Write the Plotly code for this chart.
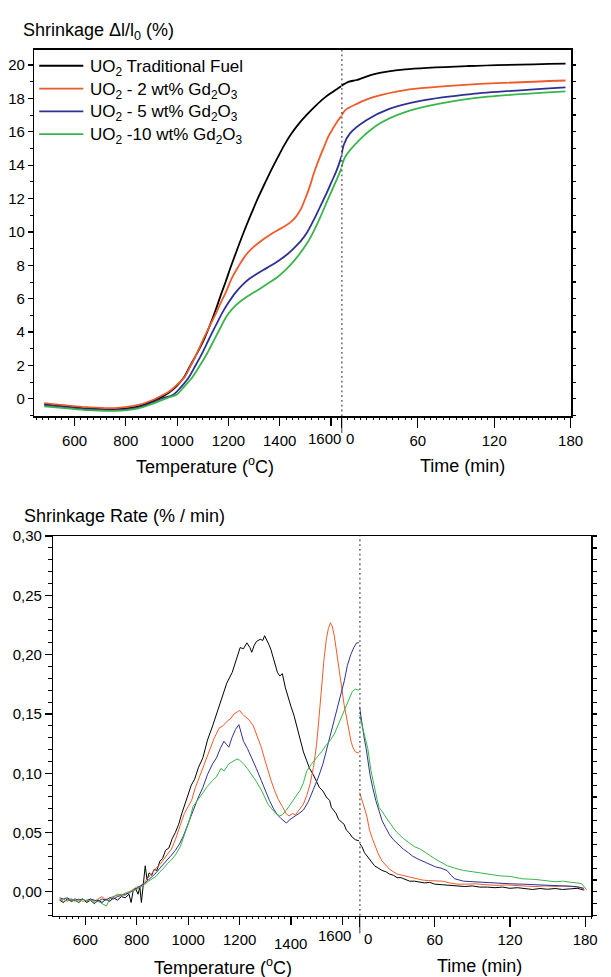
import plotly.graph_objects as go

FONT = "Liberation Sans, Arial, sans-serif"
W, H = 611, 977

series_names = [
    "UO<sub>2</sub> Traditional Fuel",
    "UO<sub>2</sub> - 2 wt% Gd<sub>2</sub>O<sub>3</sub>",
    "UO<sub>2</sub> - 5 wt% Gd<sub>2</sub>O<sub>3</sub>",
    "UO<sub>2</sub> -10 wt% Gd<sub>2</sub>O<sub>3</sub>",
]
series_colors = ["#000000", "#F15A29", "#2E3192", "#39B54A"]

# ---------------- Top panel: shrinkage (%) ----------------
shr_temp_black = [482, 560, 650, 755, 845, 900, 940, 970, 1000, 1025, 1050, 1075, 1100, 1125, 1151, 1170, 1189, 1208, 1227, 1259, 1291, 1316, 1342, 1367, 1392, 1418, 1444, 1476, 1508, 1540, 1572, 1608, 1643]
shr_black      = [-0.30, -0.45, -0.58, -0.63, -0.47, -0.18, 0.12, 0.40, 0.80, 1.25, 1.95, 2.65, 3.40, 4.30, 5.35, 6.20, 7.00, 7.85, 8.65, 9.95, 11.15, 12.05, 12.90, 13.70, 14.45, 15.20, 15.85, 16.50, 17.05, 17.55, 18.00, 18.40, 18.76]
shr_temp_red   = [482, 560, 650, 755, 845, 900, 940, 970, 1000, 1029, 1050, 1075, 1100, 1125, 1151, 1170, 1189, 1214, 1240, 1265, 1291, 1316, 1342, 1367, 1392, 1418, 1444, 1463, 1482, 1500, 1517, 1533, 1552, 1572, 1591, 1610, 1626, 1643]
shr_red        = [-0.25, -0.38, -0.50, -0.55, -0.38, -0.10, 0.20, 0.45, 0.85, 1.30, 1.90, 2.65, 3.50, 4.30, 5.10, 5.75, 6.35, 7.25, 7.95, 8.55, 9.00, 9.32, 9.62, 9.88, 10.10, 10.32, 10.60, 10.90, 11.35, 12.00, 12.70, 13.50, 14.30, 15.05, 15.75, 16.25, 16.65, 16.98]
shr_temp_blue  = [482, 560, 650, 755, 845, 900, 940, 985, 1015, 1042, 1070, 1100, 1125, 1151, 1176, 1201, 1227, 1253, 1278, 1304, 1336, 1368, 1400, 1431, 1457, 1482, 1508, 1533, 1559, 1584, 1604, 1623, 1643]
shr_blue       = [-0.38, -0.50, -0.62, -0.68, -0.52, -0.25, 0.02, 0.25, 0.70, 1.20, 1.95, 2.80, 3.60, 4.40, 5.15, 5.78, 6.35, 6.80, 7.15, 7.42, 7.72, 8.00, 8.32, 8.68, 9.05, 9.45, 10.00, 10.72, 11.55, 12.35, 13.05, 13.72, 14.60]
shr_temp_green = [482, 560, 650, 755, 845, 900, 940, 970, 1000, 1027, 1055, 1087, 1119, 1145, 1167, 1193, 1219, 1245, 1271, 1297, 1323, 1355, 1388, 1418, 1444, 1476, 1508, 1533, 1559, 1584, 1610, 1627, 1643]
shr_green      = [-0.45, -0.55, -0.68, -0.72, -0.58, -0.32, -0.08, 0.10, 0.28, 0.72, 1.20, 1.95, 2.78, 3.55, 4.20, 4.95, 5.45, 5.82, 6.10, 6.35, 6.60, 6.92, 7.25, 7.65, 8.05, 8.65, 9.35, 10.05, 10.90, 11.80, 12.70, 13.30, 13.90]

shr_time_black = [0, 6, 12, 25, 50, 100, 176]
shr_t_black    = [18.76, 19.00, 19.10, 19.44, 19.74, 19.94, 20.08]
shr_time_red   = [0, 3, 12, 25, 50, 100, 176]
shr_t_red      = [16.98, 17.30, 17.67, 18.07, 18.50, 18.82, 19.07]
shr_time_blue  = [0, 2, 6.7, 19.5, 37.5, 63, 102, 176]
shr_t_blue     = [14.60, 15.25, 15.90, 16.69, 17.37, 17.87, 18.26, 18.66]
shr_time_green = [0, 3, 14, 30, 50, 76, 115, 176]
shr_t_green    = [13.90, 14.50, 15.50, 16.49, 17.18, 17.67, 18.10, 18.42]

# ---------------- Bottom panel: shrinkage rate (%/min) ----------------
rate_temp_black = [500, 515, 530, 545, 560, 575, 590, 605, 620, 635, 650, 665, 680, 695, 710, 725, 740, 755, 770, 778, 786, 795, 805, 812, 818, 825, 833, 840, 848, 858, 868, 878, 890, 900, 912, 925, 938, 950, 963, 975, 988, 1000, 1012, 1025, 1040, 1057, 1075, 1095, 1115, 1133, 1150, 1171, 1190, 1202, 1215, 1228, 1240, 1247, 1257, 1265, 1280, 1290, 1297, 1305, 1315, 1322, 1335, 1347, 1356, 1366, 1378, 1390, 1400, 1411, 1425, 1437, 1448, 1460, 1472, 1486, 1498, 1510, 1524, 1537, 1550, 1557, 1565, 1575, 1585, 1596, 1606, 1615, 1625, 1638, 1650, 1664]
rate_black      = [-0.007, -0.009, -0.006, -0.008, -0.007, -0.009, -0.006, -0.009, -0.007, -0.010, -0.007, -0.009, -0.006, -0.008, -0.005, -0.007, -0.004, -0.005, -0.002, -0.009, 0.001, 0.003, -0.002, 0.004, -0.009, 0.006, 0.022, 0.010, 0.016, 0.014, 0.019, 0.018, 0.026, 0.028, 0.035, 0.037, 0.045, 0.050, 0.057, 0.066, 0.075, 0.083, 0.090, 0.095, 0.105, 0.113, 0.128, 0.140, 0.153, 0.165, 0.176, 0.185, 0.197, 0.206, 0.205, 0.210, 0.206, 0.202, 0.208, 0.211, 0.213, 0.212, 0.216, 0.213, 0.208, 0.204, 0.195, 0.185, 0.182, 0.184, 0.172, 0.162, 0.156, 0.149, 0.137, 0.127, 0.118, 0.111, 0.104, 0.099, 0.093, 0.088, 0.085, 0.080, 0.077, 0.071, 0.069, 0.066, 0.061, 0.059, 0.057, 0.052, 0.050, 0.046, 0.044, 0.043]
rate_temp_red   = [500, 515, 530, 545, 560, 575, 590, 605, 620, 635, 650, 665, 680, 695, 710, 725, 740, 755, 770, 785, 800, 815, 830, 845, 860, 875, 890, 905, 920, 935, 950, 969, 985, 1000, 1013, 1028, 1044, 1060, 1082, 1100, 1120, 1135, 1152, 1165, 1178, 1190, 1200, 1210, 1221, 1237, 1253, 1268, 1284, 1297, 1310, 1322, 1335, 1350, 1366, 1380, 1392, 1405, 1417, 1432, 1448, 1462, 1474, 1487, 1499, 1509, 1518, 1528, 1537, 1545, 1553, 1560, 1568, 1578, 1587, 1597, 1606, 1616, 1625, 1633, 1640, 1650, 1664]
rate_red        = [-0.006, -0.008, -0.007, -0.006, -0.008, -0.006, -0.008, -0.007, -0.006, -0.008, -0.006, -0.004, -0.007, -0.005, -0.004, -0.003, -0.002, -0.003, 0.000, 0.002, 0.004, 0.005, 0.008, 0.012, 0.016, 0.020, 0.023, 0.028, 0.032, 0.036, 0.044, 0.056, 0.066, 0.072, 0.077, 0.088, 0.097, 0.105, 0.119, 0.129, 0.138, 0.140, 0.144, 0.146, 0.150, 0.152, 0.153, 0.150, 0.148, 0.145, 0.140, 0.132, 0.122, 0.112, 0.102, 0.094, 0.086, 0.078, 0.072, 0.066, 0.064, 0.066, 0.065, 0.069, 0.074, 0.082, 0.091, 0.105, 0.124, 0.148, 0.174, 0.196, 0.213, 0.222, 0.227, 0.224, 0.216, 0.202, 0.188, 0.172, 0.158, 0.146, 0.136, 0.127, 0.122, 0.118, 0.117]
rate_temp_blue  = [500, 515, 530, 545, 560, 575, 590, 605, 620, 635, 650, 665, 680, 695, 710, 725, 740, 755, 770, 785, 800, 815, 830, 845, 860, 875, 890, 905, 920, 935, 950, 965, 981, 1000, 1019, 1038, 1057, 1075, 1095, 1110, 1125, 1139, 1150, 1158, 1170, 1184, 1197, 1205, 1215, 1230, 1247, 1265, 1284, 1300, 1316, 1332, 1347, 1360, 1372, 1382, 1395, 1411, 1430, 1448, 1467, 1486, 1505, 1524, 1543, 1562, 1578, 1594, 1607, 1619, 1632, 1644, 1655, 1664]
rate_blue       = [-0.005, -0.006, -0.005, -0.007, -0.006, -0.007, -0.006, -0.008, -0.006, -0.007, -0.008, -0.006, -0.007, -0.005, -0.006, -0.004, -0.003, -0.002, -0.001, 0.001, 0.003, 0.005, 0.007, 0.010, 0.013, 0.016, 0.020, 0.024, 0.028, 0.031, 0.035, 0.040, 0.047, 0.058, 0.069, 0.079, 0.088, 0.099, 0.108, 0.113, 0.121, 0.127, 0.124, 0.122, 0.130, 0.137, 0.141, 0.135, 0.127, 0.121, 0.113, 0.104, 0.094, 0.085, 0.077, 0.070, 0.065, 0.062, 0.060, 0.058, 0.061, 0.063, 0.066, 0.069, 0.076, 0.086, 0.096, 0.108, 0.124, 0.141, 0.154, 0.166, 0.178, 0.191, 0.200, 0.206, 0.210, 0.210]
rate_temp_green = [500, 515, 530, 545, 560, 575, 590, 605, 620, 635, 650, 665, 682, 695, 710, 725, 740, 755, 770, 785, 800, 815, 830, 845, 860, 875, 890, 905, 920, 935, 950, 969, 985, 1000, 1019, 1038, 1057, 1075, 1095, 1110, 1127, 1140, 1158, 1175, 1190, 1200, 1215, 1230, 1247, 1265, 1284, 1297, 1310, 1325, 1341, 1356, 1366, 1382, 1398, 1417, 1436, 1448, 1461, 1480, 1499, 1518, 1537, 1553, 1568, 1584, 1600, 1618, 1638, 1650, 1664]
rate_green      = [-0.007, -0.006, -0.008, -0.006, -0.007, -0.009, -0.006, -0.008, -0.007, -0.009, -0.008, -0.010, -0.012, -0.006, -0.004, -0.002, -0.003, -0.001, 0.000, 0.001, 0.002, 0.004, 0.006, 0.009, 0.011, 0.013, 0.017, 0.020, 0.024, 0.027, 0.031, 0.038, 0.048, 0.057, 0.072, 0.078, 0.084, 0.089, 0.094, 0.097, 0.104, 0.102, 0.108, 0.110, 0.112, 0.111, 0.108, 0.104, 0.099, 0.093, 0.086, 0.080, 0.074, 0.070, 0.066, 0.064, 0.065, 0.069, 0.074, 0.080, 0.086, 0.092, 0.102, 0.108, 0.113, 0.118, 0.124, 0.128, 0.133, 0.141, 0.149, 0.158, 0.169, 0.171, 0.170]

rate_time_black = [0, 2, 4, 6, 8, 10, 12, 15, 18, 21, 24, 27, 30, 33, 36, 40, 44, 48, 52, 56, 60, 66, 72, 78, 84, 90, 96, 102, 108, 114, 120, 126, 132, 138, 144, 150, 156, 162, 168, 174, 179]
rate_t_black    = [0.041, 0.038, 0.033, 0.030, 0.027, 0.024, 0.022, 0.020, 0.018, 0.017, 0.015, 0.014, 0.012, 0.012, 0.011, 0.009, 0.009, 0.008, 0.0075, 0.008, 0.0065, 0.006, 0.0055, 0.005, 0.0045, 0.005, 0.004, 0.004, 0.0035, 0.004, 0.003, 0.0035, 0.0025, 0.002, 0.0028, 0.0022, 0.0028, 0.002, 0.0025, 0.003, 0.0015]
rate_time_red   = [0, 1, 3, 6, 8, 10.6, 13, 15, 18, 21, 24, 27, 30, 34, 38, 42, 46, 50, 55, 60, 66, 72, 78, 86, 93, 100, 109, 118, 126, 134, 140, 148, 156, 164, 170, 176, 179.5]
rate_t_red      = [0.084, 0.080, 0.074, 0.063, 0.052, 0.044, 0.037, 0.032, 0.026, 0.022, 0.019, 0.017, 0.015, 0.014, 0.013, 0.012, 0.011, 0.010, 0.0095, 0.0095, 0.009, 0.0075, 0.0065, 0.0065, 0.0068, 0.006, 0.0055, 0.0058, 0.005, 0.0048, 0.0045, 0.005, 0.0046, 0.005, 0.0045, 0.0035, 0.002]
rate_time_blue  = [0, 2, 4, 5.3, 7, 8.5, 10.5, 13, 15.7, 18, 21, 24, 27, 31, 35, 39, 42.5, 46, 50, 55, 60.7, 65, 69.8, 73, 76, 83, 90, 97, 104, 112, 120, 130, 140, 148, 156, 166, 173, 179]
rate_t_blue     = [0.156, 0.140, 0.128, 0.121, 0.108, 0.098, 0.088, 0.077, 0.068, 0.060, 0.054, 0.048, 0.044, 0.040, 0.036, 0.033, 0.030, 0.028, 0.026, 0.024, 0.021, 0.020, 0.018, 0.014, 0.011, 0.009, 0.0085, 0.008, 0.0075, 0.007, 0.0068, 0.0065, 0.006, 0.0058, 0.0055, 0.005, 0.0045, 0.003]
rate_time_green = [0, 2, 4, 6.6, 9, 11.8, 14, 15.7, 18, 21, 24, 27, 30, 35, 40, 44, 48.6, 54, 60, 65, 70, 76, 83, 90, 97, 104, 112, 120, 130, 140, 148, 156, 162, 170, 177, 181]
rate_t_green    = [0.149, 0.140, 0.132, 0.121, 0.103, 0.088, 0.078, 0.071, 0.068, 0.063, 0.058, 0.054, 0.050, 0.045, 0.041, 0.038, 0.036, 0.032, 0.028, 0.025, 0.022, 0.020, 0.018, 0.017, 0.016, 0.015, 0.0135, 0.013, 0.011, 0.0105, 0.0095, 0.0085, 0.009, 0.008, 0.007, 0.002]

# tick labels
temp_ticks = [600, 800, 1000, 1200, 1400, 1600]
time_ticks = [0, 60, 120, 180]
shr_ticks = list(range(0, 21, 2))
rate_ticks = [0.00, 0.05, 0.10, 0.15, 0.20, 0.25, 0.30]
rate_ticktext = ["0,00", "0,05", "0,10", "0,15", "0,20", "0,25", "0,30"]

# ---------------- Layout geometry (pixels) ----------------
def px_x(v):
    return v / W

def px_y(v):
    return 1 - v / H

top_left, top_sep, top_right, top_top, top_bot = 35, 348.3, 582.7, 41, 411
bot_left, bot_sep, bot_right, bot_top, bot_bot = 54.5, 366.7, 603.3, 532, 915

fig = go.Figure()

top_temp = [(shr_temp_black, shr_black), (shr_temp_red, shr_red), (shr_temp_blue, shr_blue), (shr_temp_green, shr_green)]
top_time = [(shr_time_black, shr_t_black), (shr_time_red, shr_t_red), (shr_time_blue, shr_t_blue), (shr_time_green, shr_t_green)]
bot_temp = [(rate_temp_black, rate_black), (rate_temp_red, rate_red), (rate_temp_blue, rate_blue), (rate_temp_green, rate_green)]
bot_time = [(rate_time_black, rate_t_black), (rate_time_red, rate_t_red), (rate_time_blue, rate_t_blue), (rate_time_green, rate_t_green)]

for i in range(4):
    name, color = series_names[i], series_colors[i]
    fig.add_trace(go.Scatter(x=top_temp[i][0], y=top_temp[i][1], mode="lines", name=name,
                             line=dict(color=color, width=1.8, shape="spline", smoothing=1.0),
                             xaxis="x", yaxis="y"))
    fig.add_trace(go.Scatter(x=top_time[i][0], y=top_time[i][1], mode="lines", name=name,
                             line=dict(color=color, width=1.8, shape="spline", smoothing=0.8),
                             xaxis="x2", yaxis="y2"))
    fig.add_trace(go.Scatter(x=bot_temp[i][0], y=bot_temp[i][1], mode="lines", name=name,
                             line=dict(color=color, width=1), xaxis="x3", yaxis="y3"))
    fig.add_trace(go.Scatter(x=bot_time[i][0], y=bot_time[i][1], mode="lines", name=name,
                             line=dict(color=color, width=1), xaxis="x4", yaxis="y4"))

tickfont = dict(family=FONT, size=15, color="black")
common = dict(showgrid=False, zeroline=False, showline=True, linecolor="black", linewidth=1.5,
              tickcolor="black", tickwidth=1.2, tickfont=tickfont, ticks="outside")

xa_temp = dict(common, tickvals=temp_ticks, ticktext=[str(t) if t != 1600 else "" for t in temp_ticks],
               ticklen=8, mirror=True, ticklabelstandoff=2,
               minor=dict(ticks="outside", ticklen=2, dtick=25, tickcolor="black", tickwidth=1))
xa_time = dict(common, tickvals=time_ticks, ticktext=["" if t == 0 else str(t) for t in time_ticks],
               ticklen=10, mirror=True, ticklabelstandoff=0,
               minor=dict(ticks="outside", ticklen=2, dtick=5, tickcolor="black", tickwidth=1))

fig.update_layout(
    width=W, height=H, margin=dict(l=0, r=0, t=0, b=0),
    paper_bgcolor="white", plot_bgcolor="white",
    font=dict(family=FONT, size=15, color="black"),
    showlegend=False,
    xaxis=dict(xa_temp, domain=[px_x(top_left), px_x(top_sep)], range=[443, 1641], anchor="y"),
    xaxis2=dict(xa_time, domain=[px_x(top_sep), px_x(top_right)], range=[0, 180.5], anchor="y2"),
    yaxis=dict(common, domain=[px_y(top_bot), px_y(top_top)], range=[-1.04, 20.92], anchor="x",
               tickvals=shr_ticks, ticklen=5,
               minor=dict(ticks="outside", ticklen=3, dtick=1, tickcolor="black", tickwidth=1)),
    yaxis2=dict(common, domain=[px_y(top_bot), px_y(top_top)], range=[-1.04, 20.92], anchor="x2",
                side="right", showticklabels=False, dtick=1, ticklen=3),
    xaxis3=dict(xa_temp, domain=[px_x(bot_left), px_x(bot_sep)], range=[476, 1666], anchor="y3",
                ticktext=[str(t) if t not in (1400, 1600) else "" for t in temp_ticks]),
    xaxis4=dict(xa_time, domain=[px_x(bot_sep), px_x(bot_right)], range=[0, 185], anchor="y4"),
    yaxis3=dict(common, domain=[px_y(bot_bot), px_y(bot_top)], range=[-0.02, 0.30], anchor="x3",
                tickvals=rate_ticks, ticktext=rate_ticktext, ticklen=7,
                minor=dict(ticks="outside", ticklen=4, dtick=0.01, tickcolor="black", tickwidth=1)),
    yaxis4=dict(common, domain=[px_y(bot_bot), px_y(bot_top)], range=[-0.02, 0.30], anchor="x4",
                side="right", showticklabels=False, dtick=0.01, ticklen=4),
)

# dotted separators and long separator ticks
for xr, yr, ln in [("x2", "y2 domain", 17 / (top_bot - top_top)), ("x4", "y4 domain", 18 / (bot_bot - bot_top))]:
    fig.add_shape(type="line", xref=xr, yref=yr, x0=0, x1=0, y0=0, y1=1,
                  line=dict(color="black", width=1.8, dash="1.8px,3px"))
    fig.add_shape(type="line", xref=xr, yref=yr, x0=0, x1=0, y0=0, y1=-ln,
                  line=dict(color="black", width=1.5))

ann = []
# legend (drawn inside the top panel)
legend_rows = [57.3, 80.3, 103.3, 126.3]
for i in range(4):
    fig.add_shape(type="line", xref="paper", yref="paper", x0=px_x(40), x1=px_x(85),
                  y0=px_y(legend_rows[i]), y1=px_y(legend_rows[i]),
                  line=dict(color=series_colors[i], width=1.8))
    ann.append(dict(text=series_names[i], x=px_x(90), y=px_y(legend_rows[i] + 2), xanchor="left",
                    yanchor="middle", font=dict(size=17)))
# axis titles
ann.append(dict(text="Shrinkage \u0394l/l<sub>0</sub> (%)", x=px_x(21), y=px_y(23), xanchor="left", yanchor="middle",
                font=dict(size=18)))
ann.append(dict(text="Shrinkage Rate (% / min)", x=px_x(22), y=px_y(512), xanchor="left", yanchor="middle",
                font=dict(size=18)))
ann.append(dict(text="Temperature (<sup>o</sup>C)", x=px_x(209), y=px_y(461), xanchor="center", yanchor="middle",
                font=dict(size=18)))
ann.append(dict(text="Time (min)", x=px_x(472), y=px_y(461), xanchor="center", yanchor="middle", font=dict(size=18)))
ann.append(dict(text="Temperature (<sup>o</sup>C)", x=px_x(227), y=px_y(966), xanchor="center", yanchor="middle",
                font=dict(size=18)))
ann.append(dict(text="Time (min)", x=px_x(489), y=px_y(966), xanchor="center", yanchor="middle", font=dict(size=18)))
# offset tick labels
ann.append(dict(text="0", x=px_x(top_sep + 9), y=px_y(433), xanchor="center", yanchor="middle", font=dict(size=15)))
ann.append(dict(text="1600", x=px_x(331), y=px_y(433), xanchor="center", yanchor="middle", font=dict(size=15)))
ann.append(dict(text="0", x=px_x(bot_sep + 9), y=px_y(938), xanchor="center", yanchor="middle", font=dict(size=15)))
ann.append(dict(text="1600", x=px_x(341.5), y=px_y(935), xanchor="center", yanchor="middle", font=dict(size=15)))
ann.append(dict(text="1400", x=px_x(296), y=px_y(943), xanchor="center", yanchor="middle", font=dict(size=15)))
for a in ann:
    a.update(xref="paper", yref="paper", showarrow=False)
    a["font"] = dict(family=FONT, color="black", size=a["font"]["size"])
fig.update_layout(annotations=ann)

fig.write_html("out.html", config={"displayModeBar": False, "staticPlot": True},
               post_script="document.body.style.margin='0';document.body.style.padding='0';"
                           "document.body.style.overflow='hidden';")
